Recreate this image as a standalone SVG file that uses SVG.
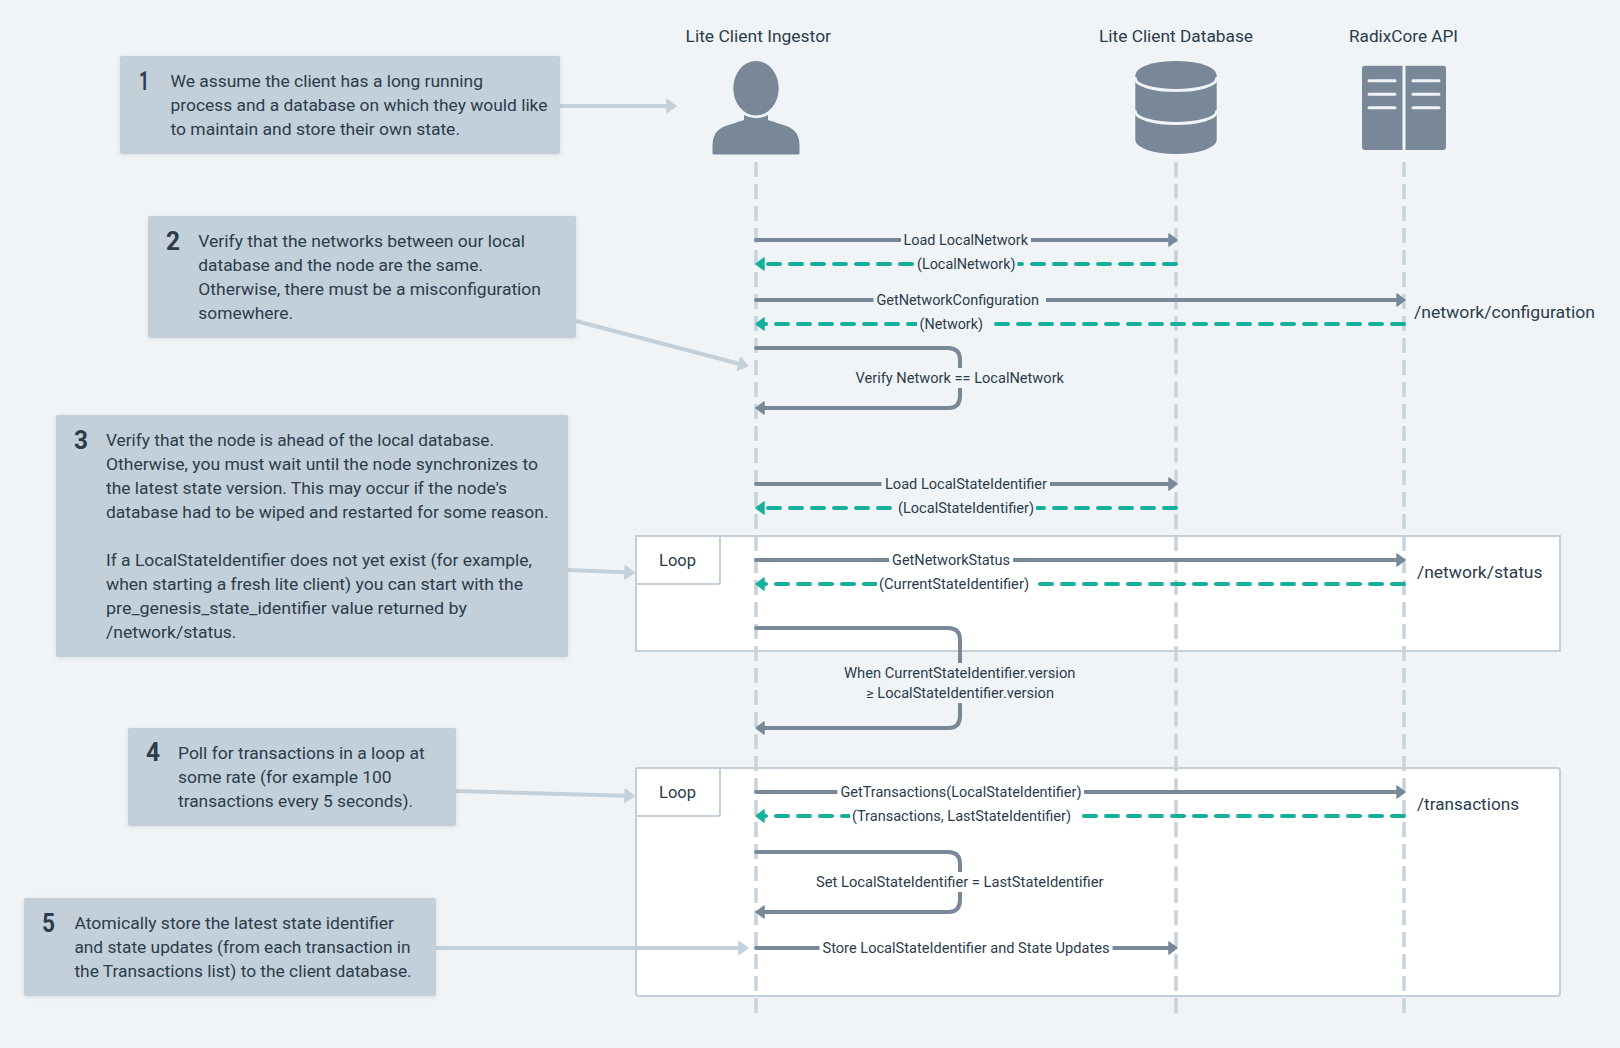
<svg xmlns="http://www.w3.org/2000/svg" width="1620" height="1048" viewBox="0 0 1620 1048">
<style>
text{font-family:"Roboto","Liberation Sans",sans-serif;fill:#2b3c4c;font-size:16px}
.lb{font-size:14px}
.num{font-size:25px;font-weight:700}
.box{fill:#c3d0da}
.frame{fill:#fff;stroke:#c3d0da;stroke-width:2}
.life{fill:none;stroke:#c6d2dc;stroke-width:3.5;stroke-dasharray:15 7}
.call{fill:none;stroke:#c3d0da;stroke-width:4;marker-end:url(#hl)}
.req{fill:none;stroke:#788898;stroke-width:4;stroke-linecap:round;marker-end:url(#hd)}
.res{fill:none;stroke:#16b09c;stroke-width:4;stroke-linecap:round;stroke-dasharray:12 10;marker-end:url(#ht)}
.icon{fill:#788898}
.cut{fill:none;stroke:#f0f4f7;stroke-width:3;stroke-linecap:round}
.bg{fill:#f0f4f7}
.wh{fill:#fff}
</style>
<defs>
<filter id="sh" x="-5%" y="-5%" width="110%" height="115%"><feDropShadow dx="0" dy="1" stdDeviation="2" flood-color="#5a6b7a" flood-opacity="0.18"/></filter>
<marker id="hd" markerUnits="userSpaceOnUse" markerWidth="12" markerHeight="16" viewBox="0 0 12 16" refX="1" refY="8" orient="auto"><path d="M1 2L9 8L1 14Z" fill="#788898" stroke="#788898" stroke-width="1.5" stroke-linejoin="round"/></marker>
<marker id="ht" markerUnits="userSpaceOnUse" markerWidth="12" markerHeight="16" viewBox="0 0 12 16" refX="1" refY="8" orient="auto"><path d="M1 2L9 8L1 14Z" fill="#16b09c" stroke="#16b09c" stroke-width="1.5" stroke-linejoin="round"/></marker>
<marker id="hl" markerUnits="userSpaceOnUse" markerWidth="13" markerHeight="18" viewBox="0 0 13 18" refX="1" refY="9" orient="auto"><path d="M1 2.5L10 9L1 15.5Z" fill="#c3d0da" stroke="#c3d0da" stroke-width="1.5" stroke-linejoin="round"/></marker>
</defs>
<rect width="1620" height="1048" class="bg"/>

<g id="loop-status"><rect x="636" y="536" width="924" height="115" class="frame"/><rect x="636" y="536" width="84" height="48" rx="2" class="frame"/><text x="659" y="566" textLength="37" lengthAdjust="spacingAndGlyphs">Loop</text></g>
<g id="loop-transactions"><rect x="636" y="768" width="924" height="228" rx="3" class="frame"/><rect x="636" y="768" width="84" height="48" rx="2" class="frame"/><text x="659" y="798" textLength="37" lengthAdjust="spacingAndGlyphs">Loop</text></g>

<g id="lifelines">
<path class="life" d="M756 162V1013"/>
<path class="life" d="M1176 162V1013"/>
<path class="life" d="M1404 162V1013"/>
</g>

<g id="ingestor">
<text x="685.5" y="42" textLength="145.5" lengthAdjust="spacingAndGlyphs">Lite Client Ingestor</text>
<ellipse class="icon" cx="756" cy="88.300" rx="22.700" ry="27.300"/>
<path class="icon" d="M744 115Q756 121.600 768 115L768 120L785 125.500Q799.500 130 799.500 145L799.500 153Q799.500 154.500 798 154.500L714 154.500Q712.500 154.500 712.500 153L712.500 145Q712.500 130 727 125.500L744 120Z"/>
</g>
<g id="database">
<text x="1099" y="42" textLength="154" lengthAdjust="spacingAndGlyphs">Lite Client Database</text>
<path class="icon" d="M1135.300 75A40.700 14 0 0 1 1216.700 75V140A40.700 14 0 0 1 1135.300 140Z"/>
<path class="cut" d="M1135.300 78.500A40.700 12 0 0 0 1216.700 78.500"/>
<path class="cut" d="M1135.300 111.500A40.700 12 0 0 0 1216.700 111.500"/>
</g>
<g id="api">
<text x="1349" y="42" textLength="109" lengthAdjust="spacingAndGlyphs">RadixCore API</text>
<rect class="icon" x="1362" y="65.700" width="84" height="84.300" rx="3"/>
<path class="cut" stroke-linecap="butt" d="M1404 65.700V150"/>
<path class="cut" d="M1369 80.700H1395M1369 94.300H1395M1369 107.700H1395M1413 80.700H1439M1413 94.300H1439M1413 107.700H1439"/>
</g>

<g id="connectors">
<path class="call" d="M560 106H667"/>
<path class="call" d="M576 321L739 363.700"/>
<path class="call" d="M568 570L625 572.300"/>
<path class="call" d="M456 791L625 795.700"/>
<path class="call" d="M436 948H739"/>

<path class="req" d="M756 240H1169"/>
<path class="res" d="M1176 264H764"/>
<path class="req" d="M756 300H1397"/>
<path class="res" d="M1404 324H764"/>
<path class="req" d="M756 348H948Q960 348 960 360V396Q960 408 948 408H764"/>
<path class="req" d="M756 484H1169"/>
<path class="res" d="M1176 508H764"/>
<path class="req" d="M756 560H1397"/>
<path class="res" d="M1404 584H764"/>
<path class="req" d="M756 628H948Q960 628 960 640V716Q960 728 948 728H764"/>
<path class="req" d="M756 792H1397"/>
<path class="res" d="M1404 816H764"/>
<path class="req" d="M756 852H948Q960 852 960 864V900Q960 912 948 912H764"/>
<path class="req" d="M756 948H1169"/>

<rect class="bg" x="901" y="230" width="130" height="20"/><text class="lb" x="903.500" y="245" textLength="124.500" lengthAdjust="spacingAndGlyphs">Load LocalNetwork</text>
<rect class="bg" x="914.500" y="254" width="103" height="20"/><text class="lb" x="917" y="269" textLength="98.500" lengthAdjust="spacingAndGlyphs">(LocalNetwork)</text>
<rect class="bg" x="873.500" y="290" width="172.500" height="20"/><text class="lb" x="876.500" y="305" textLength="162.500" lengthAdjust="spacingAndGlyphs">GetNetworkConfiguration</text>
<rect class="bg" x="917" y="314" width="77" height="20"/><text class="lb" x="919.500" y="329" textLength="63.500" lengthAdjust="spacingAndGlyphs">(Network)</text>
<rect class="bg" x="853" y="368" width="214" height="20"/><text class="lb" x="855.500" y="383" textLength="208.500" lengthAdjust="spacingAndGlyphs">Verify Network == LocalNetwork</text>
<rect class="bg" x="881.500" y="474" width="168.500" height="20"/><text class="lb" x="885" y="489" textLength="162" lengthAdjust="spacingAndGlyphs">Load LocalStateIdentifier</text>
<rect class="bg" x="895.500" y="498" width="140.500" height="20"/><text class="lb" x="898" y="513" textLength="136" lengthAdjust="spacingAndGlyphs">(LocalStateIdentifier)</text>
<rect class="wh" x="889" y="550" width="124" height="20"/><text class="lb" x="892" y="565" textLength="118" lengthAdjust="spacingAndGlyphs">GetNetworkStatus</text>
<rect class="wh" x="877" y="574" width="161" height="20"/><text class="lb" x="879" y="589" textLength="150" lengthAdjust="spacingAndGlyphs">(CurrentStateIdentifier)</text>
<rect class="bg" x="842" y="663" width="236" height="40"/>
<text class="lb" x="844" y="678" textLength="231.500" lengthAdjust="spacingAndGlyphs">When CurrentStateIdentifier.version</text>
<text class="lb" x="866" y="698" textLength="188" lengthAdjust="spacingAndGlyphs">≥ LocalStateIdentifier.version</text>
<rect class="wh" x="837.500" y="782" width="246.500" height="20"/><text class="lb" x="840.500" y="797" textLength="241" lengthAdjust="spacingAndGlyphs">GetTransactions(LocalStateIdentifier)</text>
<rect class="wh" x="850" y="806" width="232" height="20"/><text class="lb" x="852" y="821" textLength="219" lengthAdjust="spacingAndGlyphs">(Transactions, LastStateIdentifier)</text>
<rect class="wh" x="814" y="872" width="292" height="20"/><text class="lb" x="816" y="887" textLength="287.500" lengthAdjust="spacingAndGlyphs">Set LocalStateIdentifier = LastStateIdentifier</text>
<rect class="wh" x="819.500" y="938" width="293" height="20"/><text class="lb" x="822.500" y="953" textLength="287" lengthAdjust="spacingAndGlyphs">Store LocalStateIdentifier and State Updates</text>
</g>

<g id="endpoint-config"><text x="1414" y="318" textLength="181" lengthAdjust="spacingAndGlyphs">/network/configuration</text></g>
<g id="endpoint-status"><text x="1417" y="578" textLength="125.500" lengthAdjust="spacingAndGlyphs">/network/status</text></g>
<g id="endpoint-transactions"><text x="1417" y="810" textLength="102" lengthAdjust="spacingAndGlyphs">/transactions</text></g>

<g id="note-1"><rect class="box" x="120" y="56" width="440" height="98" rx="2" filter="url(#sh)"/>
<text class="num" x="139" y="90" textLength="10" lengthAdjust="spacingAndGlyphs">1</text>
<text x="170.500" y="87" textLength="312.500" lengthAdjust="spacingAndGlyphs">We assume the client has a long running</text>
<text x="170.500" y="111" textLength="377" lengthAdjust="spacingAndGlyphs">process and a database on which they would like</text>
<text x="170.500" y="135" textLength="289.500" lengthAdjust="spacingAndGlyphs">to maintain and store their own state.</text></g>

<g id="note-2"><rect class="box" x="148" y="216" width="428" height="122" rx="2" filter="url(#sh)"/>
<text class="num" x="166" y="250" textLength="14" lengthAdjust="spacingAndGlyphs">2</text>
<text x="198.300" y="247" textLength="326.700" lengthAdjust="spacingAndGlyphs">Verify that the networks between our local</text>
<text x="198.300" y="271" textLength="284.700" lengthAdjust="spacingAndGlyphs">database and the node are the same.</text>
<text x="198.300" y="295" textLength="342.700" lengthAdjust="spacingAndGlyphs">Otherwise, there must be a misconfiguration</text>
<text x="198.300" y="319" textLength="94.700" lengthAdjust="spacingAndGlyphs">somewhere.</text></g>

<g id="note-3"><rect class="box" x="56" y="415" width="512" height="242" rx="2" filter="url(#sh)"/>
<text class="num" x="74" y="449" textLength="14" lengthAdjust="spacingAndGlyphs">3</text>
<text x="106" y="446" textLength="388" lengthAdjust="spacingAndGlyphs">Verify that the node is ahead of the local database.</text>
<text x="106" y="470" textLength="432" lengthAdjust="spacingAndGlyphs">Otherwise, you must wait until the node synchronizes to</text>
<text x="106" y="494" textLength="401" lengthAdjust="spacingAndGlyphs">the latest state version. This may occur if the node's</text>
<text x="106" y="518" textLength="442.500" lengthAdjust="spacingAndGlyphs">database had to be wiped and restarted for some reason.</text>
<text x="106" y="566" textLength="426" lengthAdjust="spacingAndGlyphs">If a LocalStateIdentifier does not yet exist (for example,</text>
<text x="106" y="590" textLength="417" lengthAdjust="spacingAndGlyphs">when starting a fresh lite client) you can start with the</text>
<text x="106" y="614" textLength="361" lengthAdjust="spacingAndGlyphs">pre_genesis_state_identifier value returned by</text>
<text x="106" y="638" textLength="130.500" lengthAdjust="spacingAndGlyphs">/network/status.</text></g>

<g id="note-4"><rect class="box" x="128" y="728" width="328" height="98" rx="2" filter="url(#sh)"/>
<text class="num" x="146" y="761" textLength="14" lengthAdjust="spacingAndGlyphs">4</text>
<text x="178" y="759" textLength="246.600" lengthAdjust="spacingAndGlyphs">Poll for transactions in a loop at</text>
<text x="178" y="783" textLength="213.500" lengthAdjust="spacingAndGlyphs">some rate (for example 100</text>
<text x="178" y="807" textLength="235" lengthAdjust="spacingAndGlyphs">transactions every 5 seconds).</text></g>

<g id="note-5"><rect class="box" x="24" y="898" width="412" height="98" rx="2" filter="url(#sh)"/>
<text class="num" x="42" y="932" textLength="13" lengthAdjust="spacingAndGlyphs">5</text>
<text x="74.400" y="929" textLength="319.600" lengthAdjust="spacingAndGlyphs">Atomically store the latest state identifier</text>
<text x="74.400" y="953" textLength="336.200" lengthAdjust="spacingAndGlyphs">and state updates (from each transaction in</text>
<text x="74.400" y="977" textLength="337.300" lengthAdjust="spacingAndGlyphs">the Transactions list) to the client database.</text></g>
</svg>
